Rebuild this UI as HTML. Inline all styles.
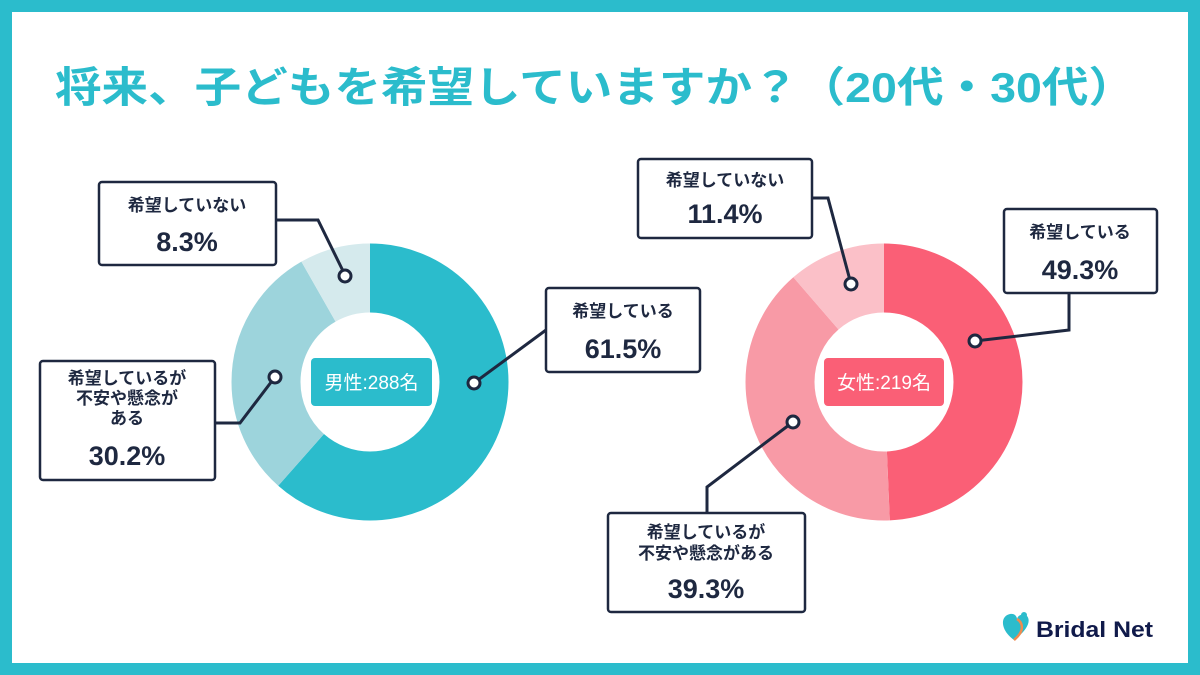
<!DOCTYPE html>
<html><head><meta charset="utf-8"><style>
html,body{margin:0;padding:0;background:#fff}
svg{display:block}
text{font-family:"Liberation Sans","Noto Sans CJK JP",sans-serif;fill:#1e2840}
</style></head><body>
<svg width="1200" height="675" viewBox="0 0 1200 675">
<rect x="0" y="0" width="1200" height="675" fill="#2bbccc"/>
<rect x="12" y="12" width="1176" height="651" fill="#fff"/>
<text x="55" y="102" font-size="42" font-weight="bold" style="fill:#2bbccc" textLength="1080" lengthAdjust="spacingAndGlyphs">将来、子どもを希望していますか？（20代・30代）</text>

<g transform="translate(370,382) rotate(-90)">
<circle r="104" fill="none" stroke="#2bbccc" stroke-width="69" stroke-dasharray="401.9 653.5" stroke-dashoffset="0"/>
<circle r="104" fill="none" stroke="#9dd4dc" stroke-width="69" stroke-dasharray="197.4 653.5" stroke-dashoffset="-401.9"/>
<circle r="104" fill="none" stroke="#d5eaed" stroke-width="69" stroke-dasharray="54.3 653.5" stroke-dashoffset="-599.3"/>
</g>
<rect x="311" y="358" width="121" height="48" rx="4" fill="#2bbccc"/>
<text x="371.5" y="389" font-size="19" text-anchor="middle" style="fill:#fff">男性:288名</text>

<g transform="translate(884,382) rotate(-90)">
<circle r="104" fill="none" stroke="#fa5f76" stroke-width="69" stroke-dasharray="322.2 653.5" stroke-dashoffset="0"/>
<circle r="104" fill="none" stroke="#f89aa6" stroke-width="69" stroke-dasharray="256.8 653.5" stroke-dashoffset="-322.2"/>
<circle r="104" fill="none" stroke="#fbc0c8" stroke-width="69" stroke-dasharray="74.5 653.5" stroke-dashoffset="-579"/>
</g>
<rect x="824" y="358" width="120" height="48" rx="4" fill="#fa5f76"/>
<text x="884" y="389" font-size="19" text-anchor="middle" style="fill:#fff">女性:219名</text>

<g fill="none" stroke="#1e2840" stroke-width="3">
<polyline points="276,220 318,220 345,275"/>
<polyline points="474,383 546,330"/>
<polyline points="275,377 240,423 215,423"/>
<polyline points="812,198 828,198 851,284"/>
<polyline points="975,341 1069,330 1069,293"/>
<polyline points="793,422 707,487 707,513"/>
</g>
<g fill="#fff" stroke="#1e2840" stroke-width="3">
<circle cx="345" cy="276" r="6"/>
<circle cx="474" cy="383" r="6"/>
<circle cx="275" cy="377" r="6"/>
<circle cx="851" cy="284" r="6"/>
<circle cx="975" cy="341" r="6"/>
<circle cx="793" cy="422" r="6"/>
</g>

<g fill="#fff" stroke="#1e2840" stroke-width="2.5">
<rect x="99" y="182" width="177" height="83" rx="3"/>
<rect x="546" y="288" width="154" height="84" rx="3"/>
<rect x="40" y="361" width="175" height="119" rx="3"/>
<rect x="638" y="159" width="174" height="79" rx="3"/>
<rect x="1004" y="209" width="153" height="84" rx="3"/>
<rect x="608" y="513" width="197" height="99" rx="3"/>
</g>

<g font-size="17" text-anchor="middle" font-weight="bold">
<text x="187" y="211">希望していない</text>
<text x="623" y="317">希望している</text>
<text x="127" y="384">希望しているが</text>
<text x="127" y="404">不安や懸念が</text>
<text x="127" y="424">ある</text>
<text x="725" y="186">希望していない</text>
<text x="1080" y="238">希望している</text>
<text x="706" y="538">希望しているが</text>
<text x="706" y="559">不安や懸念がある</text>
</g>
<g font-size="27" font-weight="bold" text-anchor="middle">
<text x="187" y="251">8.3%</text>
<text x="623" y="358">61.5%</text>
<text x="127" y="465">30.2%</text>
<text x="725" y="223">11.4%</text>
<text x="1080" y="279">49.3%</text>
<text x="706" y="598">39.3%</text>
</g>

<path d="M1014,640 C1000,630 1000,616 1010,614 C1015,613 1017,617 1017,619 C1018,615 1023,613 1027,616 C1032,622 1025,632 1014,640 Z" fill="#2bbccc"/>
<path d="M1017,619 C1022,622 1026,630 1014,640" fill="none" stroke="#f28a4e" stroke-width="2.5"/>
<circle cx="1024" cy="615" r="3" fill="#2bbccc"/>
<text x="1036" y="637" font-size="22" font-weight="bold" style="fill:#101a4a" textLength="117" lengthAdjust="spacingAndGlyphs">Bridal Net</text>
</svg>
</body></html>
